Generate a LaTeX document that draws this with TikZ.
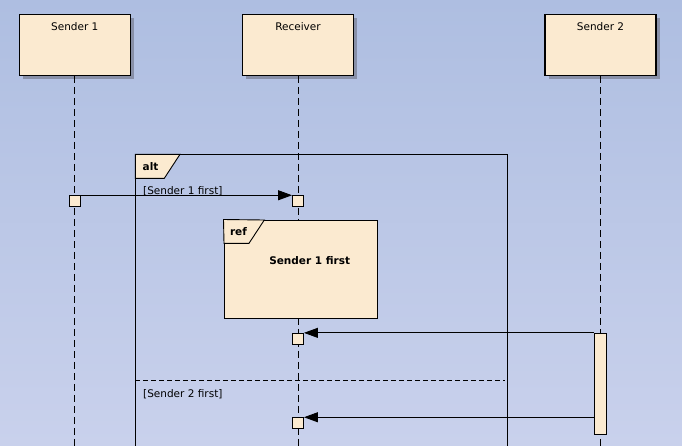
\documentclass[tikz,border=0pt]{standalone}
\usepackage{fontspec}
\setmainfont{DejaVu Sans}
\usetikzlibrary{arrows.meta,shadows}
\definecolor{bgtop}{RGB}{174,190,225}
\definecolor{bgbot}{RGB}{201,209,236}
\definecolor{boxfill}{RGB}{251,234,208}
\definecolor{shadowc}{RGB}{136,144,168}
\begin{document}
\begin{tikzpicture}[x=1pt,y=-1pt,
  every node/.style={font=\fontsize{10.5}{12}\selectfont},
  headbox/.style={draw=black,line width=1.1pt,fill=boxfill,minimum width=111pt,minimum height=61pt,inner sep=0pt,
    drop shadow={shadow xshift=3.5pt,shadow yshift=-3.5pt,fill=shadowc,opacity=1}},
  actbox/.style={draw=black,line width=0.9pt,fill=boxfill,minimum width=11pt,minimum height=11pt,inner sep=0pt},
  barbox/.style={draw=black,line width=0.9pt,fill=boxfill,minimum width=12pt,minimum height=101pt,inner sep=0pt},
  life/.style={draw=black,line width=0.9pt,dash pattern=on 7pt off 4pt},
  msg/.style={draw=black,line width=0.9pt,-{Triangle[length=14pt,width=10pt]}},
  frameline/.style={draw=black,line width=1pt},
  tabfill/.style={fill=boxfill,draw=black,line width=0.9pt},
  lbl/.style={anchor=base,inner sep=0pt},
  lblw/.style={anchor=base west,inner sep=0pt},
  boldtxt/.style={font=\fontsize{10.5}{12}\selectfont\bfseries}
]
\useasboundingbox (0,0) rectangle (682,445);
\clip (0,0) rectangle (682,445);
\shade[top color=bgtop,bottom color=bgbot] (0,0) rectangle (682,445);
\coordinate (bot) at (0,450);

% lifeline heads
\node[headbox] (s1) at (74.8,44.8) {};
\node[headbox] (rc) at (298,44.8) {};
\node[headbox] (s2) at (600.5,44.8) {};
\node[lbl] (s1t) at (74.8,30) {Sender 1};
\node[lbl] (rct) at (298,30) {Receiver};
\node[lbl] (s2t) at (600.5,30) {Sender 2};

% lifelines
\draw[life] (s1.south) -- (s1.south |- bot);
\draw[life] (rc.south) -- (rc.south |- bot);
\draw[life] (s2.south) -- (s2.south |- bot);

% alt frame
\coordinate (altnw) at (135.3,154.3);
\coordinate (altse) at (507.3,460);
\draw[frameline] (altnw) rectangle (altse);
\draw[tabfill] (altnw) -- (180,154.3) -- (164.3,178.3) -- (135.3,178.3) -- cycle;
\node[lblw,boldtxt] (altt) at (142.5,170) {alt};
\node[lblw] (g1) at (143,194.3) {[Sender 1 first]};
\draw[black,line width=0.9pt,dash pattern=on 5pt off 3pt] (altnw |- 0,380.7) -- (505,380.7);
\node[lblw] (g2) at (143,397.5) {[Sender 2 first]};

% ref frame
\node[draw=black,line width=1pt,fill=boxfill,minimum width=153.7pt,minimum height=98.3pt,inner sep=0pt] (ref) at (300.85,269.15) {};
\draw[tabfill] (ref.north west) -- (264.3,220) -- (249,243.3) -- (224,243.3) -- cycle;
\node[lblw,boldtxt] (reft) at (229.8,235.2) {ref};
\node[lbl,boldtxt] (refx) at (309.7,264) {Sender 1 first};

% activations
\node[actbox] (a1) at (74.8,201.2) {};
\node[actbox] (r1) at (298,201.2) {};
\node[actbox] (r2) at (298,338.8) {};
\node[actbox] (r3) at (298,423.2) {};
\node[barbox] (bar) at (600.3,383.8) {};

% messages
\draw[msg] (a1.north east) -- (r1.north west);
\draw[msg] (bar.north west) -- (r2.north east);
\draw[msg] (bar.west |- r3.north) -- (r3.north east);
\end{tikzpicture}
\end{document}
